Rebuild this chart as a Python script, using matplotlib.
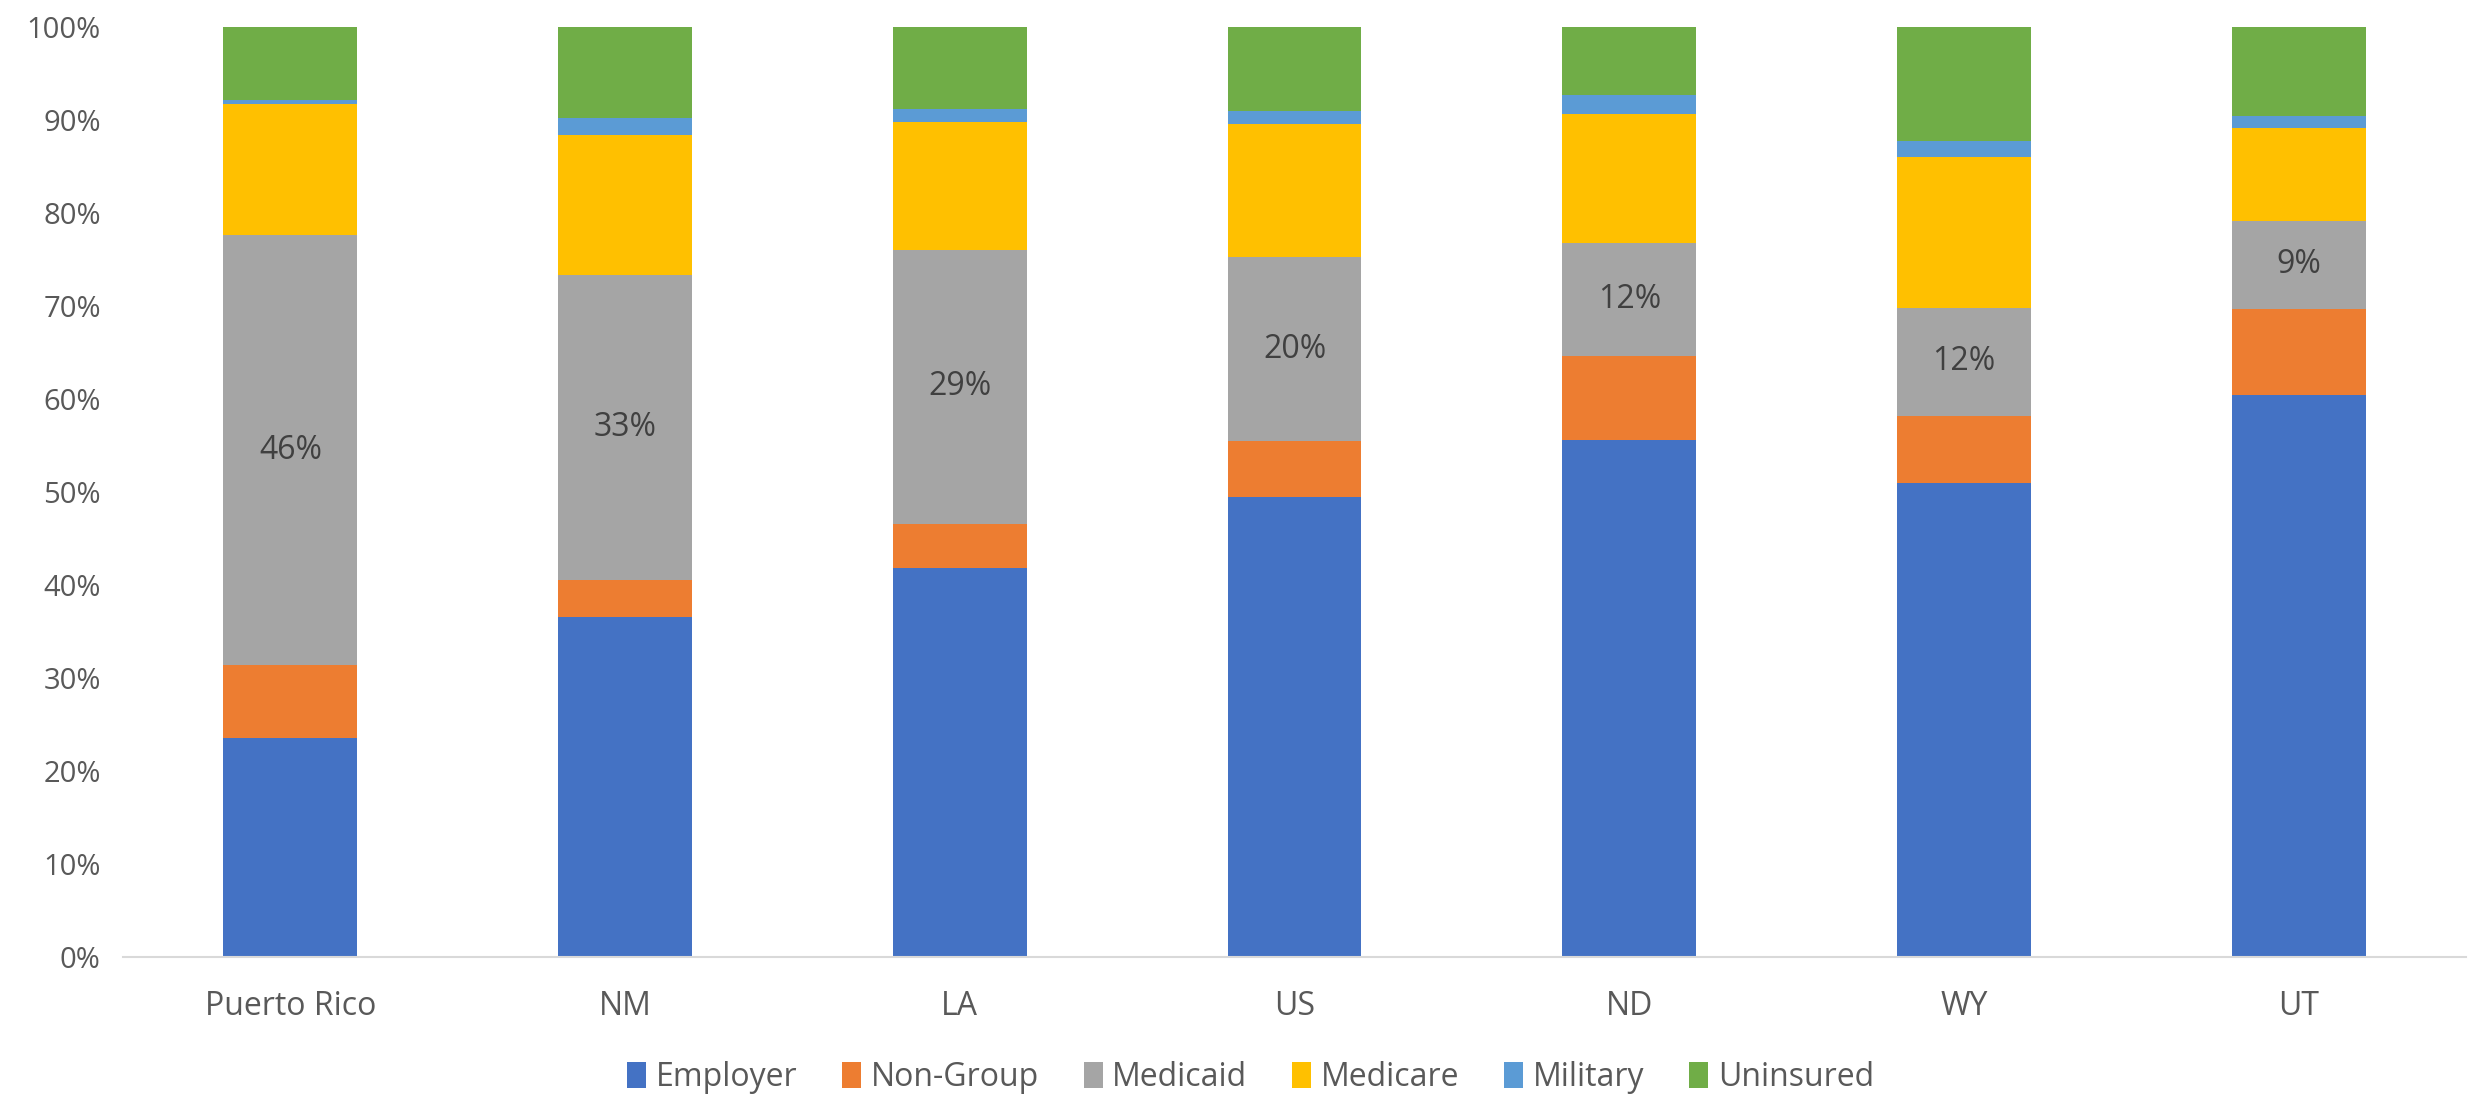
import numpy as np
import matplotlib.pyplot as plt
from matplotlib.ticker import PercentFormatter

# Anteile je Versicherungsart (in %)
states = ["Puerto Rico", "NM", "LA", "US", "ND", "WY", "UT"]
employer = [23.5, 36.5, 41.8, 49.5, 55.6, 51.0, 60.4]
non_group = [7.9, 4.0, 4.8, 6.0, 9.0, 7.2, 9.3]
medicaid = [46.2, 32.8, 29.4, 19.7, 12.2, 11.6, 9.4]
medicare = [14.1, 15.1, 13.8, 14.3, 13.8, 16.2, 10.0]
military = [0.4, 1.8, 1.4, 1.4, 2.1, 1.7, 1.3]
uninsured = [7.9, 9.8, 8.8, 9.1, 7.3, 12.3, 9.6]

series = ["Employer", "Non-Group", "Medicaid", "Medicare", "Military", "Uninsured"]
colors = ["#4472C4", "#ED7D31", "#A5A5A5", "#FFC000", "#5B9BD5", "#70AD47"]
values = [employer, non_group, medicaid, medicare, military, uninsured]

plt.rcParams["font.family"] = ["Open Sans", "DejaVu Sans"]

fig = plt.figure(figsize=(24.71, 11.02), dpi=100)
ax = fig.add_axes([0.0498, 0.1316, 0.9482, 0.8441])

x = np.arange(len(states))
bottom = np.zeros(len(states))
for name, col, vals in zip(series, colors, values):
    bars = ax.bar(x, vals, width=0.4, bottom=bottom, color=col, label=name)
    if name == "Medicaid":
        ax.bar_label(bars, labels=[f"{v:.0f}%" for v in vals], label_type="center",
                     fontsize=23, color="#404040")
    bottom += np.array(vals)

ax.set_xlim(-0.5, len(states) - 0.5)
ax.set_ylim(0, 100)
ax.set_yticks(np.arange(0, 101, 10))
ax.yaxis.set_major_formatter(PercentFormatter(decimals=0))
ax.set_xticks(x)
ax.set_xticklabels(states)

for side in ["top", "right", "left"]:
    ax.spines[side].set_visible(False)
ax.spines["bottom"].set_color("#D9D9D9")
ax.spines["bottom"].set_linewidth(1.5)
ax.tick_params(axis="both", length=0, labelcolor="#595959")
ax.tick_params(axis="x", pad=24, labelsize=23)
ax.tick_params(axis="y", pad=16, labelsize=21)

fig.legend(loc="center", bbox_to_anchor=(0.506, 0.022), ncol=6, frameon=False,
           fontsize=23, labelcolor="#595959", handlelength=0.6, handleheight=0.9,
           handletextpad=0.3, columnspacing=1.4)

fig.savefig("out.png", dpi=100)
